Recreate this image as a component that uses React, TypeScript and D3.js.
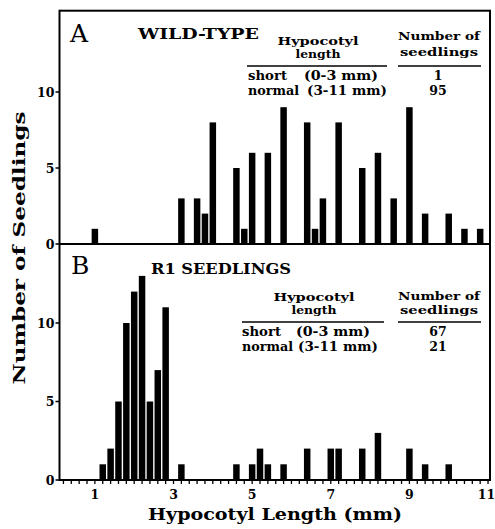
import React from "react";
import * as d3 from "d3";

const binsA = [1.0, 3.2, 3.6, 3.8, 4.0, 4.6, 4.8, 5.0, 5.4, 5.8, 6.4, 6.6, 6.8, 7.2, 7.8, 8.2, 8.6, 9.0, 9.4, 10.0, 10.4, 10.8];
const countsA = [1, 3, 3, 2, 8, 5, 1, 6, 6, 9, 8, 1, 3, 8, 5, 6, 3, 9, 2, 2, 1, 1];
const binsB = [1.2, 1.4, 1.6, 1.8, 2.0, 2.2, 2.4, 2.6, 2.8, 3.2, 4.6, 5.0, 5.2, 5.4, 5.8, 6.4, 7.0, 7.2, 7.8, 8.2, 9.0, 9.4, 10.0];
const countsB = [1, 2, 5, 10, 12, 13, 5, 7, 11, 1, 1, 1, 2, 1, 1, 2, 2, 2, 2, 3, 2, 1, 1];
const xTickLabels = [1, 3, 5, 7, 9, 11];
const yTickLabels = [0, 5, 10];
const tableRows = ["short", "normal"];
const tableRanges = ["(0-3 mm)", "(3-11 mm)"];
const tableCountsA = ["1", "95"];
const tableCountsB = ["67", "21"];

const FONT = "'DejaVu Serif', serif";

export default function App() {
  const left = 59.5, right = 490, top = 10.7, mid = 244, bottom = 480;
  const x = d3.scaleLinear().domain([0.1, 11.05]).range([left, right]);
  const yA = d3.scaleLinear().domain([0, 10]).range([mid, 92]);
  const yB = d3.scaleLinear().domain([0, 10]).range([bottom, 323]);
  const barW = x(0.165) - x(0);
  const minorTicks = d3.range(1, 56).map((i) => i * 0.2);

  const bars = (bins: number[], counts: number[], y: d3.ScaleLinear<number, number>) =>
    bins.map((b, i) => (
      <rect key={i} x={x(b) - barW / 2} y={y(counts[i])} width={barW} height={y(0) - y(counts[i])} fill="#000" />
    ));

  const yTicks = (y: d3.ScaleLinear<number, number>) =>
    yTickLabels.map((t) => (
      <g key={t}>
        <line x1={left - 4} x2={left} y1={y(t)} y2={y(t)} stroke="#000" strokeWidth={1.5} />
        <text x={left - 5} y={y(t)} dy="0.36em" textAnchor="end" fontSize={12.5} fontWeight="bold" fontFamily={FONT}>
          {t}
        </text>
      </g>
    ));

  const table = (
    oy: number, hypX: number, lineX1: number, lineX2: number, rowX: number,
    rangeX: number[], counts: string[], numOffset: number
  ) => (
    <g fontFamily={FONT} fontWeight="bold">
      <text x={hypX} y={oy - 21.5} textAnchor="middle" fontSize={11.5} textLength={81} lengthAdjust="spacingAndGlyphs">Hypocotyl</text>
      <text x={hypX} y={oy - 8} textAnchor="middle" fontSize={11.5} textLength={45} lengthAdjust="spacingAndGlyphs">length</text>
      <line x1={lineX1} x2={lineX2} y1={oy} y2={oy} stroke="#000" strokeWidth={1.5} />
      <text x={439} y={oy - 22 + numOffset} textAnchor="middle" fontSize={11.5} textLength={82} lengthAdjust="spacingAndGlyphs">Number of</text>
      <text x={439} y={oy - 8.5 + numOffset * 0.3} textAnchor="middle" fontSize={11.5} textLength={78} lengthAdjust="spacingAndGlyphs">seedlings</text>
      <line x1={398} x2={481} y1={oy} y2={oy} stroke="#000" strokeWidth={1.5} />
      {tableRows.map((r, i) => (
        <g key={r}>
          <text x={rowX} y={oy + 14 + i * 15} fontSize={12.5} textLength={i === 0 ? 39 : 51} lengthAdjust="spacingAndGlyphs">{r}</text>
          <text x={rangeX[i]} y={oy + 14 + i * 15} fontSize={12.5} textLength={i === 0 ? 74 : 80} lengthAdjust="spacingAndGlyphs">{tableRanges[i]}</text>
          <text x={438} y={oy + 14 + i * 15} textAnchor="middle" fontSize={12.5}>{counts[i]}</text>
        </g>
      ))}
    </g>
  );

  return (
    <svg width={495} height={529} style={{ position: "absolute", left: 0, top: 0, background: "#fff" }}>
      <rect x={0} y={0} width={495} height={529} fill="#fff" />
      {bars(binsA, countsA, yA)}
      {bars(binsB, countsB, yB)}
      <rect x={left} y={top} width={right - left} height={bottom - top} fill="none" stroke="#000" strokeWidth={2} />
      <line x1={left} x2={right} y1={mid} y2={mid} stroke="#000" strokeWidth={2} />
      {minorTicks.map((t, i) => (
        <line key={i} x1={x(t)} x2={x(t)} y1={bottom} y2={bottom + 4} stroke="#000" strokeWidth={1.3} />
      ))}
      {xTickLabels.map((t) => (
        <text key={t} x={x(t) - (t === 11 ? 1.5 : 0)} y={499} textAnchor="middle" fontSize={12.5} fontWeight="bold" fontFamily={FONT}>
          {t}
        </text>
      ))}
      {yTicks(yA)}
      {yTicks(yB)}
      <text x={70} y={42} fontSize={25} fontFamily={FONT}>A</text>
      <text x={138} y={39} fontSize={15} fontWeight="bold" fontFamily={FONT} textLength={121} lengthAdjust="spacingAndGlyphs">WILD-TYPE</text>
      <text x={71} y={274} fontSize={25} fontFamily={FONT}>B</text>
      <text x={151} y={274} fontSize={15} fontWeight="bold" fontFamily={FONT} textLength={140} lengthAdjust="spacingAndGlyphs">R1 SEEDLINGS</text>
      {table(66, 318, 247, 387, 248, [304, 307], tableCountsA, -4)}
      {table(322, 314, 242, 384, 242, [296, 298], tableCountsB, 0)}
      <text x={275} y={520} textAnchor="middle" fontSize={17} fontWeight="bold" fontFamily={FONT} textLength={254} lengthAdjust="spacingAndGlyphs">
        Hypocotyl Length (mm)
      </text>
      <text transform="translate(25,248) rotate(-90)" textAnchor="middle" fontSize={17} fontWeight="bold" fontFamily={FONT} textLength={273} lengthAdjust="spacingAndGlyphs">
        Number of Seedlings
      </text>
    </svg>
  );
}
